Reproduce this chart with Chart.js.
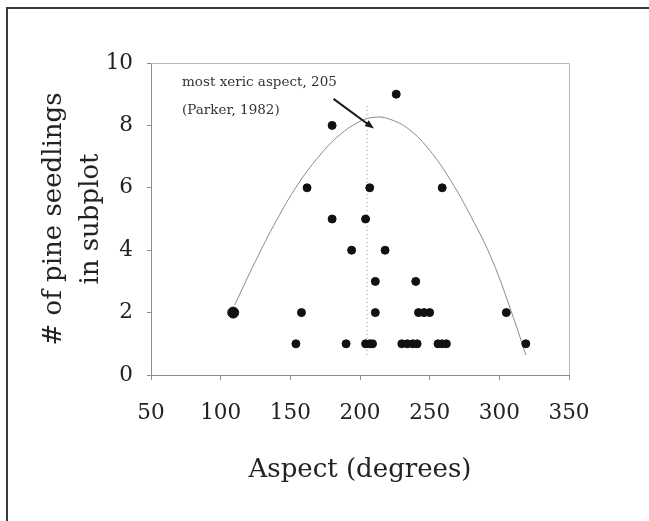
<!DOCTYPE html>
<html>
<head>
<meta charset="utf-8">
<script src="https://cdn.jsdelivr.net/npm/chart.js@4.4.1/dist/chart.umd.min.js"></script>
<style>
  html, body { margin: 0; padding: 0; background: #fff; }
  #wrap { width: 649px; height: 521px; position: relative; }
</style>
</head>
<body>
<div id="wrap"><canvas id="c" width="649" height="521"></canvas></div>
<script>
// Seedling counts per subplot against slope aspect
const aspectDeg = [109, 154, 158, 162, 180, 180, 190, 194, 204, 204, 207, 207, 209, 211, 211, 218, 226,
                   230, 234, 238, 240, 241, 242, 246, 250, 256, 259, 259, 262, 305, 319];
const seedlings = [2, 1, 2, 6, 8, 5, 1, 4, 1, 5, 1, 6, 1, 3, 2, 4, 9,
                   1, 1, 1, 3, 1, 2, 2, 2, 1, 6, 1, 1, 2, 1];

// Fitted curve, sampled along its length
const fitAspect = [110, 125, 140, 155, 170, 185, 200, 210, 220, 235, 250, 265, 280, 295, 310, 319];
const fitCount  = [2.24, 3.65, 4.95, 6.08, 6.98, 7.68, 8.13, 8.26, 8.22, 7.88, 7.2, 6.24, 5.05, 3.67, 1.85, 0.64];

// Most xeric aspect (Parker, 1982) and the extent of its marker line
const xericAspect = 205;
const xericSpan = [8.62, 0.64];

// Axis ticks
const xTicks = [50, 100, 150, 200, 250, 300, 350];
const yTicks = [0, 2, 4, 6, 8, 10];

const serif = "'DejaVu Serif', serif";

const scatterPts = aspectDeg.map((a, i) => ({ x: a, y: seedlings[i] }));
const fitPts = fitAspect.map((a, i) => ({ x: a, y: fitCount[i] }));
const xericPts = xericSpan.map(v => ({ x: xericAspect, y: v }));

// Page frame, plot frame, arrow and note
const decorations = {
  id: 'decorations',
  beforeDraw(chart) {
    const ctx = chart.ctx;
    ctx.save();
    ctx.strokeStyle = '#3a3a3a';
    ctx.lineWidth = 2;
    ctx.beginPath();
    ctx.moveTo(7, 521);
    ctx.lineTo(7, 8);
    ctx.lineTo(649, 8);
    ctx.stroke();
    ctx.restore();
  },
  afterDatasetsDraw(chart) {
    const { ctx, chartArea: a, scales: { x, y } } = chart;
    ctx.save();
    // top and right edges of the plot box
    ctx.strokeStyle = '#b8b8b8';
    ctx.lineWidth = 1;
    ctx.beginPath();
    ctx.moveTo(a.left, a.top + 0.5);
    ctx.lineTo(a.right + 0.5, a.top + 0.5);
    ctx.lineTo(a.right + 0.5, a.bottom);
    ctx.stroke();

    // arrow pointing to the curve's peak
    const x0 = x.getPixelForValue(181), y0 = y.getPixelForValue(8.85);
    const x1 = x.getPixelForValue(210), y1 = y.getPixelForValue(7.9);
    const ang = Math.atan2(y1 - y0, x1 - x0);
    ctx.strokeStyle = '#1a1a1a';
    ctx.fillStyle = '#1a1a1a';
    ctx.lineWidth = 2;
    ctx.beginPath();
    ctx.moveTo(x0, y0);
    ctx.lineTo(x1 - 6 * Math.cos(ang), y1 - 6 * Math.sin(ang));
    ctx.stroke();
    ctx.beginPath();
    ctx.moveTo(x1, y1);
    ctx.lineTo(x1 - 9 * Math.cos(ang) + 3.5 * Math.sin(ang), y1 - 9 * Math.sin(ang) - 3.5 * Math.cos(ang));
    ctx.lineTo(x1 - 9 * Math.cos(ang) - 3.5 * Math.sin(ang), y1 - 9 * Math.sin(ang) + 3.5 * Math.cos(ang));
    ctx.closePath();
    ctx.fill();

    // note text
    ctx.fillStyle = '#333';
    ctx.font = "13.5px " + serif;
    ctx.textAlign = 'left';
    ctx.textBaseline = 'middle';
    ctx.fillText('most xeric aspect, 205', x.getPixelForValue(72.3), y.getPixelForValue(9.39));
    ctx.fillText('(Parker, 1982)', x.getPixelForValue(72.3), y.getPixelForValue(8.48));
    ctx.restore();
  }
};

new Chart(document.getElementById('c'), {
  type: 'scatter',
  data: {
    datasets: [
      {
        label: 'Seedlings',
        data: scatterPts,
        backgroundColor: '#111',
        borderColor: '#111',
        pointRadius: ctx => (ctx.dataIndex === 0 ? 5.5 : 4),
        pointHoverRadius: 4,
        order: 1
      },
      {
        label: 'Fit',
        type: 'line',
        data: fitPts,
        borderColor: '#8a8a8a',
        borderWidth: 1,
        pointRadius: 0,
        fill: false,
        tension: 0.4,
        order: 2
      },
      {
        label: 'Most xeric aspect',
        type: 'line',
        data: xericPts,
        borderColor: '#8a8a8a',
        borderWidth: 1,
        borderDash: [1, 3],
        pointRadius: 0,
        fill: false,
        order: 3
      }
    ]
  },
  options: {
    responsive: false,
    animation: false,
    events: [],
    layout: { padding: { left: 10, top: 63, right: 80, bottom: 0 } },
    plugins: {
      legend: { display: false },
      tooltip: { enabled: false }
    },
    scales: {
      x: {
        type: 'linear',
        min: 50,
        max: 350,
        afterBuildTicks: s => { s.ticks = xTicks.map(v => ({ value: v })); },
        afterFit: s => { s.height = 146; },
        border: { display: true, color: '#8c8c8c', width: 1 },
        grid: { drawOnChartArea: false, drawTicks: true, tickLength: 5, color: '#8c8c8c' },
        ticks: { color: '#222', font: { family: serif, size: 21.5 }, padding: 21, maxRotation: 0 },
        title: {
          display: true,
          text: 'Aspect (degrees)',
          color: '#222',
          font: { family: serif, size: 26, lineHeight: '37px' },
          padding: { top: 0, bottom: 32 }
        }
      },
      y: {
        type: 'linear',
        min: 0,
        max: 10,
        afterBuildTicks: s => { s.ticks = yTicks.map(v => ({ value: v })); },
        afterFit: s => { s.width = 141; },
        border: { display: true, color: '#8c8c8c', width: 1 },
        grid: { drawOnChartArea: false, drawTicks: true, tickLength: 4, color: '#8c8c8c' },
        ticks: { color: '#222', font: { family: serif, size: 21.5 }, padding: 14 },
        title: {
          display: true,
          text: ['# of pine seedlings', 'in subplot'],
          color: '#222',
          font: { family: serif, size: 26, lineHeight: '37px' },
          padding: { top: 26, bottom: 0 }
        }
      }
    }
  },
  plugins: [decorations]
});
</script>
</body>
</html>
